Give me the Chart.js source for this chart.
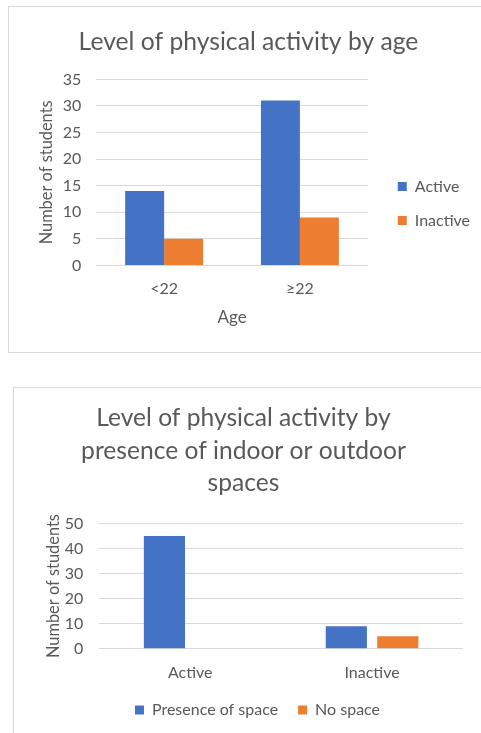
<!DOCTYPE html>
<html>
<head>
<meta charset="utf-8">
<script src="https://cdn.jsdelivr.net/npm/chart.js@4/dist/chart.umd.min.js"></script>
<style>
  html, body { margin: 0; padding: 0; background: #fff; }
  body { width: 481px; height: 733px; position: relative; overflow: hidden; }
  .box { position: absolute; border: 1px solid #d9d9d9; background: #fff; }
  #box1 { left: 8px; top: 6px; width: 480px; height: 345px; }
  #box2 { left: 13px; top: 387px; width: 480px; height: 380px; }
  .box canvas { position: absolute; left: 0; top: 0; }
</style>
</head>
<body>
<div class="box" id="box1"><canvas id="ageChart" width="472" height="345"></canvas></div>
<div class="box" id="box2"><canvas id="spaceChart" width="468" height="364"></canvas></div>
<script>
// chart 1: activity by age
const ageLabels = ['<22', '\u226522'];
const ageActive = [14, 31];
const ageInactive = [5, 9];
const ageMax = 35;
const ageStep = 5;

// chart 2: activity by presence of indoor/outdoor space
const spaceLabels = ['Active', 'Inactive'];
const spacePresence = [45, 9];
const spaceNone = [0, 5];
const spaceMax = 50;
const spaceStep = 10;

const blue = '#4472C4';
const orange = '#ED7D31';
const textGray = '#595959';
const gridGray = '#d9d9d9';
const fontFamily = 'Lato, "Liberation Sans", sans-serif';

Chart.defaults.font.family = fontFamily;
Chart.defaults.color = textGray;
Chart.defaults.animation = false;

// moves the legend / title boxes after layout, so the plot keeps its own size
const boxShift = {
    id: 'boxShift',
    afterLayout(chart, args, opts) {
        const move = (box, d) => {
            if (!box || !d) return;
            const dx = d.x || 0;
            const dy = d.y || 0;
            box.left += dx; box.right += dx;
            box.top += dy; box.bottom += dy;
        };
        move(chart.legend, opts.legend);
        move(chart.titleBlock, opts.title);
    }
};

function drawAgeChart() {
    const canvas = document.getElementById('ageChart');
    new Chart(canvas, {
        type: 'bar',
        data: {
            labels: ageLabels,
            datasets: [
                {
                    label: 'Active',
                    backgroundColor: blue,
                    data: ageActive,
                    barPercentage: 1.0,
                    categoryPercentage: 0.574,
                },
                {
                    label: 'Inactive',
                    backgroundColor: orange,
                    data: ageInactive,
                    barPercentage: 1.0,
                    categoryPercentage: 0.574,
                }]
        },
        plugins: [boxShift],
        options: {
            responsive: false,
            layout: {
                padding: { left: 28, right: 13, top: 18, bottom: 24 }
            },
            scales: {
                x: {
                    grid: { display: false, drawTicks: false },
                    border: { display: false },
                    ticks: { font: { size: 16 }, padding: 14 },
                    title: { display: true, text: 'Age', font: { size: 17 }, padding: { top: -5, bottom: 0 } }
                },
                y: {
                    min: 0,
                    max: ageMax,
                    ticks: { stepSize: ageStep, font: { size: 16 }, padding: 15 },
                    grid: { color: gridGray, drawTicks: false },
                    border: { display: false },
                    title: { display: true, text: 'Number of students', font: { size: 16.4 }, padding: { top: 0, bottom: -9 } }
                }
            },
            plugins: {
                boxShift: { legend: { x: 12, y: 27 }, title: { x: -4, y: 0 } },
                legend: {
                    display: true,
                    position: 'right',
                    labels: { boxWidth: 9, boxHeight: 9, padding: 18, font: { size: 16 }, color: textGray }
                },
                title: {
                    display: true,
                    text: 'Level of physical activity by age',
                    font: { size: 24.7, weight: 'normal', lineHeight: 1.35 },
                    color: textGray,
                    padding: { top: 0, bottom: 21 }
                },
                tooltip: { enabled: false }
            }
        }
    });
}

function drawSpaceChart() {
    const canvas = document.getElementById('spaceChart');
    new Chart(canvas, {
        type: 'bar',
        data: {
            labels: spaceLabels,
            datasets: [
                {
                    label: 'Presence of space',
                    backgroundColor: blue,
                    data: spacePresence,
                    barPercentage: 0.8,
                    categoryPercentage: 0.566,
                },
                {
                    label: 'No space',
                    backgroundColor: orange,
                    data: spaceNone,
                    barPercentage: 0.8,
                    categoryPercentage: 0.566,
                }]
        },
        plugins: [boxShift],
        options: {
            responsive: false,
            layout: {
                padding: { left: 30, right: 19, top: 14, bottom: 10 }
            },
            scales: {
                x: {
                    grid: { display: false, drawTicks: false },
                    border: { display: false },
                    ticks: { font: { size: 16 }, padding: 14 }
                },
                y: {
                    min: 0,
                    max: spaceMax,
                    ticks: { stepSize: spaceStep, font: { size: 16 }, padding: 16 },
                    grid: { color: gridGray, drawTicks: false },
                    border: { display: false },
                    title: { display: true, text: 'Number of students', font: { size: 16.4 }, padding: { top: 0, bottom: -15 } }
                }
            },
            plugins: {
                boxShift: { legend: { x: 4, y: -14 }, title: { x: -10, y: 0 } },
                legend: {
                    display: true,
                    position: 'bottom',
                    labels: { boxWidth: 9, boxHeight: 9, padding: 20, font: { size: 16 }, color: textGray }
                },
                title: {
                    display: true,
                    text: ['Level of physical activity by', 'presence of indoor or outdoor', 'spaces'],
                    font: { size: 24.6, weight: 'normal', lineHeight: 1.32 },
                    color: textGray,
                    padding: { top: 0, bottom: 24 }
                },
                tooltip: { enabled: false }
            }
        }
    });
}

// wait for the local font so the legend and axes measure text correctly
Promise.all([
    document.fonts.load('16px Lato'),
    document.fonts.load('24px Lato')
]).catch(() => {}).then(() => {
    drawAgeChart();
    drawSpaceChart();
});
</script>
</body>
</html>
